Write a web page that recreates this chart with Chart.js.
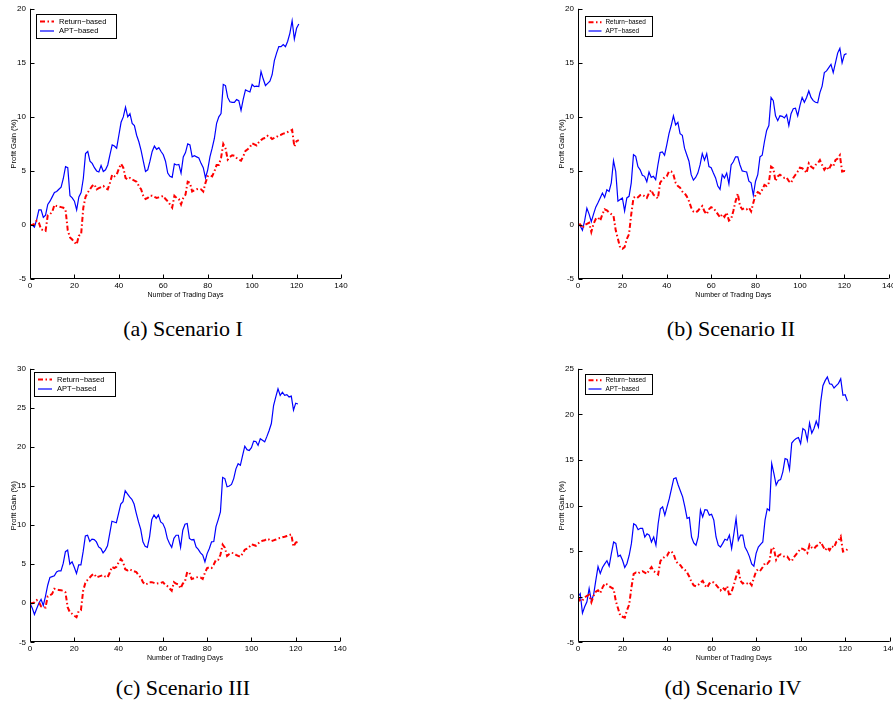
<!DOCTYPE html>
<html><head><meta charset="utf-8">
<script src="https://cdn.jsdelivr.net/npm/chart.js@4.4.0/dist/chart.umd.min.js"></script>
<style>
html,body{margin:0;padding:0;background:#fff;overflow:hidden;width:893px;height:711px;position:relative;}
canvas{position:absolute;}
.cap{position:absolute;font-family:"Liberation Serif","Times New Roman",serif;font-size:22px;color:#000;white-space:nowrap;transform:translate(-50%,-50%);}
</style></head><body>
<canvas id="cA" width="360" height="302" style="left:0;top:0"></canvas>
<canvas id="cB" width="360" height="302" style="left:548px;top:0"></canvas>
<canvas id="cC" width="360" height="305" style="left:0;top:360px"></canvas>
<canvas id="cD" width="360" height="305" style="left:548px;top:360px"></canvas>
<div class="cap" style="left:183px;top:329px">(a) Scenario I</div>
<div class="cap" style="left:731px;top:329px">(b) Scenario II</div>
<div class="cap" style="left:183px;top:688px">(c) Scenario III</div>
<div class="cap" style="left:733px;top:688px">(d) Scenario IV</div>
<script>
// ---- data ----
const days = Array.from({length: 122}, (_, i) => i);
const xTicks = [0, 20, 40, 60, 80, 100, 120, 140];
const seriesNames = ['Return\u2212based', 'APT\u2212based'];

const returnI = [0,0,0.1,0.4,0.2,-0.4,-0.5,-0.55,0.9,1.0,
1.2,1.85,1.75,1.7,1.65,1.6,1.4,-0.5,-1.15,-1.35,
-1.6,-1.8,-1.0,-0.9,1.6,2.6,3.0,3.3,3.6,3.75,
3.3,3.4,3.5,3.6,3.4,3.3,3.9,4.65,4.5,4.65,
5.2,5.65,5.3,4.35,4.2,4.35,4.2,4.1,4.0,3.6,
3.3,2.7,2.4,2.5,2.7,2.7,2.6,2.5,2.55,2.6,
2.7,2.4,2.2,1.9,1.6,2.7,2.5,2.4,1.9,2.5,
2.8,4.0,3.9,3.1,3.2,3.3,3.35,3.3,3.1,3.9,
4.5,4.6,4.5,4.95,5.55,5.55,6.2,7.5,7.1,6.05,
6.3,6.45,6.4,6.2,6.05,5.95,6.35,6.85,7.0,7.2,
7.55,7.45,7.35,7.65,7.85,8.0,8.05,8.25,8.15,7.95,
8.05,8.15,8.3,8.35,8.45,8.5,8.6,8.7,8.8,7.25,
7.75,7.85];
const aptI = [0,0,-0.2,0.5,1.4,1.4,0.7,0.9,1.9,2.2,
2.6,3.0,3.1,3.3,3.5,4.3,5.4,5.3,2.7,2.5,
2.2,1.4,2.6,3.0,4.3,6.6,6.8,5.9,5.7,5.3,
5.0,4.9,5.5,4.95,5.1,5.55,6.5,7.4,7.3,7.1,
8.3,9.5,10.0,10.9,10.0,10.3,9.4,9.2,8.3,7.7,
6.9,5.9,4.95,5.1,5.9,6.8,7.3,7.0,7.15,6.8,
6.5,5.9,4.8,4.5,4.4,5.65,5.55,5.6,4.8,6.3,
6.7,7.5,7.4,6.3,6.4,6.3,6.2,5.7,5.3,4.35,
5.1,6.3,7.1,8.0,9.4,10.0,10.3,13.0,12.9,11.8,
11.4,11.35,11.35,11.6,11.5,10.6,11.65,12.5,12.4,12.3,
13.0,12.8,12.85,12.8,14.2,13.5,12.9,13.1,13.3,13.9,
15.2,15.9,16.5,16.5,16.7,16.5,17.0,17.75,18.9,17.2,
18.2,18.6];

const returnII = [0,0.05,-0.3,0.0,0.1,0.2,-0.65,0.1,0.55,0.7,
0.4,1.0,1.45,1.35,1.15,1.0,0.85,-0.5,-1.3,-2.1,
-2.2,-2.05,-1.3,-0.85,1.0,2.5,2.65,2.55,2.75,2.8,
2.65,2.5,2.95,3.25,2.8,2.65,2.45,3.9,4.2,4.4,
4.5,4.95,4.95,4.65,3.9,3.6,3.45,3.1,2.95,2.65,
2.2,1.6,1.25,1.15,1.3,1.55,1.75,1.25,1.0,1.45,
1.65,1.55,1.3,1.0,0.7,1.0,0.75,1.15,0.4,0.55,
1.3,2.2,2.9,1.75,1.45,1.55,1.45,1.6,1.25,2.05,
2.8,3.05,2.9,3.25,3.7,3.6,3.9,5.4,5.25,4.05,
4.5,4.65,4.5,4.35,4.4,4.05,3.9,4.35,4.65,4.95,
5.3,5.25,5.1,4.8,5.7,5.4,5.25,5.55,5.7,6.0,
5.55,5.1,5.4,5.1,5.55,5.4,6.0,6.15,6.45,4.95,
5.0,4.95];
const aptII = [0.2,-0.1,-0.5,0.4,1.55,1.0,0.3,1.0,1.65,2.05,
2.5,2.95,2.55,3.25,3.1,3.9,5.95,4.95,2.2,2.35,
2.5,1.3,2.5,2.65,3.9,6.5,6.35,5.4,5.1,4.6,
4.5,4.0,4.9,4.4,4.5,4.2,5.55,6.7,6.75,6.45,
7.4,8.45,9.2,10.1,9.25,9.5,8.45,8.3,7.1,6.5,
5.9,4.65,4.15,4.4,4.8,5.55,6.6,6.0,6.6,5.4,
5.3,4.8,4.35,3.6,3.3,4.65,4.35,4.8,3.8,5.55,
5.85,6.3,6.3,5.55,5.0,4.95,4.9,4.05,3.9,2.75,
4.05,4.65,6.3,6.45,7.7,8.75,9.2,11.8,11.5,10.1,
9.65,10.1,10.05,9.9,10.2,9.2,10.3,10.75,10.8,10.1,
11.05,11.8,11.35,11.8,12.4,11.8,11.5,11.35,11.3,12.25,
12.85,14.1,14.25,14.55,14.85,14.1,15.0,15.9,16.35,15.0,
15.75,15.85];

const returnIII = [0,0,0.1,0.4,0.2,-0.4,-0.5,-0.55,0.9,1.0,
1.2,1.85,1.75,1.7,1.65,1.6,1.4,-0.5,-1.15,-1.35,
-1.6,-1.8,-1.0,-0.9,1.6,2.6,3.0,3.3,3.6,3.75,
3.3,3.4,3.5,3.6,3.4,3.3,3.9,4.65,4.5,4.65,
5.2,5.65,5.3,4.35,4.2,4.35,4.2,4.1,4.0,3.6,
3.3,2.7,2.4,2.5,2.7,2.7,2.6,2.5,2.55,2.6,
2.7,2.4,2.2,1.9,1.6,2.7,2.5,2.4,1.9,2.5,
2.8,4.0,3.9,3.1,3.2,3.3,3.35,3.3,3.1,3.9,
4.5,4.6,4.5,4.95,5.55,5.55,6.2,7.5,7.1,6.05,
6.3,6.45,6.4,6.2,6.05,5.95,6.35,6.85,7.0,7.2,
7.55,7.45,7.35,7.65,7.85,8.0,8.05,8.25,8.15,7.95,
8.05,8.15,8.3,8.35,8.45,8.5,8.6,8.7,8.8,7.25,
7.75,7.85];
const aptIII = [0,-0.6,-1.45,-0.7,0,0.5,-0.3,0.9,2.3,3.3,
3.4,3.5,4.0,4.15,4.15,5.1,6.6,6.8,5.0,5.3,
4.6,3.8,4.9,4.9,6.6,8.6,8.7,7.9,8.2,8.15,
7.85,7.2,7.0,6.45,6.8,7.35,8.9,10.5,10.4,10.3,
11.5,12.7,13.0,14.4,14.0,13.6,13.3,12.7,11.5,10.4,
9.45,7.85,7.3,7.15,8.5,10.7,11.3,10.85,11.3,10.4,
10.2,9.55,8.3,7.65,7.15,8.3,8.7,8.7,7.15,9.35,
10.1,10.2,8.3,8.1,8.15,7.2,6.9,6.45,6.15,5.3,
6.35,7.0,7.85,7.9,9.8,10.7,11.7,16.1,15.95,14.9,
15.0,15.2,15.95,17.2,17.85,17.65,18.9,20.1,19.65,19.55,
19.9,20.75,20.7,20.2,21.05,20.85,20.65,21.35,22.1,23.0,
25.3,26.4,27.45,26.6,27.0,26.6,26.7,26.4,26.5,24.7,
25.6,25.5];

const returnIV = [0,-0.5,-0.4,-0.1,0.1,0.2,-0.6,0.1,0.55,0.7,
0.4,1.0,1.45,1.35,1.15,1.0,0.85,-0.5,-1.3,-2.1,
-2.2,-2.3,-1.5,-0.85,1.0,2.5,2.65,2.55,2.75,2.8,
2.65,2.5,2.95,3.25,2.8,2.65,2.45,3.9,4.2,4.4,
4.5,4.95,4.95,4.65,3.9,3.6,3.45,3.1,2.95,2.65,
2.2,1.6,1.25,1.15,1.3,1.55,1.75,1.25,1.0,1.45,
1.65,1.55,1.3,1.0,0.7,1.0,0.75,1.15,0.05,0.55,
1.3,2.2,3.0,1.75,1.45,1.55,1.45,1.6,1.25,2.05,
2.8,3.05,2.9,3.25,3.7,3.6,3.9,5.4,5.25,4.05,
4.5,4.65,4.5,4.35,4.4,4.05,3.9,4.35,4.65,4.95,
5.3,5.25,5.1,4.8,5.7,5.4,5.25,5.55,5.7,6.0,
5.55,5.1,5.4,5.1,5.55,5.4,6.0,6.15,6.6,4.95,
5.0,5.2];
const aptIV = [0,0.35,-1.8,-1.1,-0.55,0.9,-0.45,0.2,1.8,3.3,
2.55,3.2,3.6,3.95,3.35,4.75,6.0,5.85,4.4,4.55,
4.0,3.2,3.65,4.55,5.85,8.0,7.85,7.35,7.5,7.5,
6.55,6.9,6.75,6.0,6.55,5.65,8.0,9.65,9.85,8.95,
9.85,10.75,11.85,12.95,13.05,12.25,11.6,10.95,9.85,8.6,
8.7,6.55,5.9,5.65,6.55,9.5,8.75,9.55,9.5,8.95,
9.05,8.4,6.55,5.65,5.45,5.85,6.3,6.2,6.75,5.3,
6.9,8.6,6.2,6.75,6.75,5.45,5.0,4.4,3.6,3.35,
4.75,5.45,5.75,6.0,8.4,9.65,9.45,14.6,13.5,12.25,
12.75,12.85,13.7,15.15,15.05,13.95,16.85,17.15,17.35,17.45,
16.8,18.45,18.25,17.15,19.05,17.95,18.45,19.25,18.6,21.35,
23.15,23.7,24.1,23.35,23.3,22.9,23.15,23.4,23.9,22.1,
22.15,21.45];

// ---- drawing ----
const SANS = '"Liberation Sans", Arial, Helvetica, sans-serif';

const axesPlugin = {
  id: 'matlabAxes',
  afterDatasetsDraw(chart) {
    const ctx = chart.ctx, a = chart.chartArea, xs = chart.scales.x, ys = chart.scales.y;
    ctx.save();
    ctx.strokeStyle = '#000'; ctx.lineWidth = 1; ctx.setLineDash([]);
    const L = Math.round(a.left) + 0.5, B = Math.round(a.bottom) - 0.5;
    ctx.beginPath();
    ctx.moveTo(L, a.top); ctx.lineTo(L, B); ctx.lineTo(a.right, B);
    xs.ticks.forEach(t => { const px = Math.round(xs.getPixelForValue(t.value)) + 0.5; ctx.moveTo(px, B); ctx.lineTo(px, B - 4); });
    ys.ticks.forEach(t => { const py = Math.round(ys.getPixelForValue(t.value)) + 0.5; ctx.moveTo(L, py); ctx.lineTo(L + 4, py); });
    ctx.stroke();
    ctx.restore();
  }
};

const legendPlugin = {
  id: 'matlabLegend',
  afterDraw(chart, args, o) {
    const ctx = chart.ctx, a = chart.chartArea;
    const x = Math.round(a.left + o.dx), y = Math.round(a.top + o.dy);
    ctx.save();
    ctx.fillStyle = '#fff'; ctx.fillRect(x, y, o.w, o.h);
    ctx.strokeStyle = '#000'; ctx.lineWidth = 1; ctx.strokeRect(x + 0.5, y + 0.5, o.w, o.h);
    chart.data.datasets.forEach((ds, i) => {
      const ry = y + o.rows[i];
      ctx.strokeStyle = ds.borderColor; ctx.lineWidth = ds.borderWidth;
      ctx.setLineDash(ds.borderDash || []);
      ctx.beginPath(); ctx.moveTo(x + o.s1, ry); ctx.lineTo(x + o.s2, ry); ctx.stroke();
      ctx.setLineDash([]);
      ctx.fillStyle = '#000'; ctx.font = o.font + 'px ' + SANS; ctx.textBaseline = 'middle';
      ctx.fillText(ds.label, x + o.tx, ry);
    });
    ctx.restore();
  }
};

function makeChart(id, ret, apt, yMin, yMax, lay, leg) {
  new Chart(document.getElementById(id), {
    type: 'line',
    data: {
      datasets: [
        { label: seriesNames[0], data: days.map((d, i) => ({ x: d, y: ret[i] })),
          borderColor: '#ff0000', borderWidth: 2, borderDash: [5, 2.5, 1.5, 2.5],
          pointRadius: 0, tension: 0, fill: false },
        { label: seriesNames[1], data: days.map((d, i) => ({ x: d, y: apt[i] })),
          borderColor: '#0000ff', borderWidth: 1.2, pointRadius: 0, tension: 0, fill: false }
      ]
    },
    options: {
      responsive: false, animation: false, events: [],
      layout: { padding: { left: 0, top: lay.top, right: lay.right, bottom: 0 } },
      plugins: { legend: { display: false }, tooltip: { enabled: false }, matlabLegend: leg },
      scales: {
        x: {
          type: 'linear', min: 0, max: 140,
          afterFit: s => { s.height = lay.xh; },
          afterBuildTicks: s => { s.ticks = xTicks.map(v => ({ value: v })); },
          ticks: { font: { family: SANS, size: 8 }, color: '#000', padding: 2, maxRotation: 0, autoSkip: false },
          grid: { display: false, drawTicks: false }, border: { display: false },
          title: { display: true, text: 'Number of Trading Days', color: '#000',
                   font: { family: SANS, size: 7 }, padding: { top: 0, bottom: lay.tb } }
        },
        y: {
          type: 'linear', min: yMin, max: yMax,
          afterFit: s => { s.width = 30; },
          ticks: { stepSize: 5, font: { family: SANS, size: 8 }, color: '#000', padding: 4 },
          grid: { display: false, drawTicks: false }, border: { display: false },
          title: { display: true, text: 'Profit Gain (%)', color: '#000',
                   font: { family: SANS, size: 7.5 }, padding: { top: 9.5, bottom: 0 } }
        }
      }
    },
    plugins: [axesPlugin, legendPlugin]
  });
}

const bigLeg = { dx: 6, dy: 5, w: 80, h: 24, font: 7.5, s1: 4, s2: 18, tx: 23, rows: [7.5, 17] };
const smallLeg = { dx: 7, dy: 6.7, w: 67, h: 20, font: 6.4, s1: 3.5, s2: 16.5, tx: 20.5, rows: [6.3, 15] };

makeChart('cA', returnI, aptI, -5, 20, { top: 5.3, right: 19, xh: 23, tb: 2.5 }, bigLeg);
makeChart('cB', returnII, aptII, -5, 20, { top: 5.3, right: 19.3, xh: 23, tb: 2.5 }, smallLeg);
makeChart('cC', returnIII, aptIII, -5, 30, { top: 8.3, right: 20, xh: 22.7, tb: 2.5 },
  { dx: 4.3, dy: 2.7, w: 81, h: 24, font: 7.5, s1: 4, s2: 18, tx: 23, rows: [7.5, 17] });
makeChart('cD', returnIV, aptIV, -5, 25, { top: 8.3, right: 18.3, xh: 22.7, tb: 2.5 },
  { dx: 7, dy: 5, w: 67, h: 20, font: 6.4, s1: 3.5, s2: 16.5, tx: 20.5, rows: [6.3, 15] });
</script>
</body></html>
